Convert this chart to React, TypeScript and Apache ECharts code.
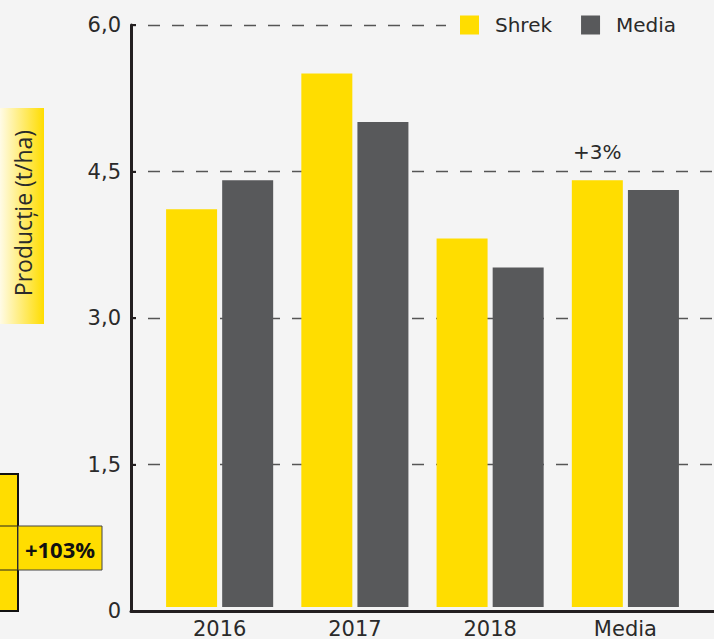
import React, { useEffect, useRef } from "react";
import * as echarts from "echarts";

const categories = ["2016", "2017", "2018", "Media"];
const shrekValues = [4.1, 5.5, 3.8, 4.4];
const mediaValues = [4.4, 5.0, 3.5, 4.3];
const seriesNames = ["Shrek", "Media"];
const yAxisTitle = "Producție (t/ha)";
const mediaDiffLabel = "+3%";
const sideBoxLabel = "+103%";

const YELLOW = "#ffdd00";
const GREY = "#58595b";
const TEXT = "#2a2a2a";
const AXIS = "#231f20";
const BG = "#f4f4f4";
const FONT = "'DejaVu Sans', sans-serif";
const TITLE_FONT = "'Open Sans', sans-serif";

export default function App() {
  const ref = useRef<HTMLDivElement>(null);

  useEffect(() => {
    if (!ref.current) return;
    const chart = echarts.init(ref.current, undefined, { renderer: "svg" });

    const shrekData = shrekValues.map((v, i) =>
      i === 3
        ? {
            value: v,
            label: {
              show: true,
              position: "top",
              distance: 18,
              formatter: mediaDiffLabel,
              fontSize: 20,
              color: TEXT,
              fontFamily: FONT,
            },
          }
        : v
    );

    chart.setOption({
      animation: false,
      backgroundColor: BG,
      textStyle: { fontFamily: FONT },
      grid: [
        { left: 131, right: 0, top: 25, bottom: 28 },
        { left: 152, right: 21, top: 25, bottom: 28 },
      ],
      legend: {
        data: seriesNames,
        orient: "horizontal",
        left: 446,
        top: 9,
        width: 268,
        padding: [6, 4, 6, 14],
        backgroundColor: BG,
        itemWidth: 19,
        itemHeight: 19,
        itemGap: 29,
        icon: "rect",
        textStyle: {
          fontSize: 20,
          color: TEXT,
          fontFamily: FONT,
          padding: [0, 0, 0, 11],
        },
      },
      xAxis: [
        {
          type: "value",
          gridIndex: 0,
          min: 0,
          max: 1,
          axisLine: { show: true, onZero: false, lineStyle: { color: AXIS, width: 3 } },
          axisTick: { show: false },
          axisLabel: { show: false },
          splitLine: { show: false },
        },
        {
          type: "category",
          gridIndex: 1,
          data: categories,
          axisLine: { show: false },
          axisTick: { show: false },
          axisLabel: { fontSize: 21, color: TEXT, margin: 11, fontFamily: FONT },
        },
      ],
      yAxis: [
        {
          type: "value",
          gridIndex: 0,
          min: 0,
          max: 6,
          interval: 1.5,
          axisLine: { show: true, lineStyle: { color: AXIS, width: 3 } },
          axisTick: { show: true, inside: true, length: 5, lineStyle: { color: AXIS, width: 2 } },
          axisLabel: {
            fontSize: 21,
            color: TEXT,
            margin: 10,
            fontFamily: FONT,
            formatter: (v: number) => (v === 0 ? "0" : v.toFixed(1).replace(".", ",")),
          },
          splitLine: {
            show: true,
            lineStyle: { color: "#555", width: 1.3, type: [12, 12], dashOffset: 7 },
          },
        },
        {
          type: "value",
          gridIndex: 1,
          min: 0,
          max: 6,
          show: false,
        },
      ],
      series: [
        {
          name: seriesNames[0],
          type: "bar",
          xAxisIndex: 1,
          yAxisIndex: 1,
          data: shrekData,
          barWidth: 51,
          barGap: "10%",
          itemStyle: { color: YELLOW },
        },
        {
          name: seriesNames[1],
          type: "bar",
          xAxisIndex: 1,
          yAxisIndex: 1,
          data: mediaValues,
          barWidth: 51,
          barGap: "10%",
          itemStyle: { color: GREY },
        },
      ],
      graphic: [
        {
          type: "rect",
          z: 100,
          shape: { x: 680, y: 12, width: 34, height: 26 },
          style: { fill: BG },
        },
        {
          type: "group",
          children: [
            {
              type: "rect",
              shape: { x: 0, y: 108, width: 44, height: 216 },
              style: {
                fill: new echarts.graphic.LinearGradient(0, 0, 1, 0, [
                  { offset: 0, color: "#fffbe6" },
                  { offset: 1, color: YELLOW },
                ]),
              },
            },
            {
              type: "text",
              x: 23,
              y: 213,
              rotation: Math.PI / 2,
              style: {
                text: yAxisTitle,
                fontSize: 23,
                fill: TEXT,
                fontFamily: TITLE_FONT,
                align: "center",
                verticalAlign: "middle",
              },
            },
            {
              type: "rect",
              shape: { x: -4, y: 474, width: 22, height: 137 },
              style: { fill: YELLOW, stroke: "#111", lineWidth: 2 },
            },
            {
              type: "line",
              shape: { x1: 0, y1: 526, x2: 18, y2: 526 },
              style: { stroke: "#222", lineWidth: 1 },
            },
            {
              type: "line",
              shape: { x1: 0, y1: 570, x2: 18, y2: 570 },
              style: { stroke: "#222", lineWidth: 1 },
            },
            {
              type: "rect",
              shape: { x: 18, y: 526, width: 84, height: 44 },
              style: { fill: YELLOW, stroke: "#444", lineWidth: 1 },
            },
            {
              type: "text",
              x: 60,
              y: 549,
              style: {
                text: sideBoxLabel,
                fontSize: 22,
                fontWeight: "bold",
                fill: "#111",
                fontFamily: TITLE_FONT,
                align: "center",
                verticalAlign: "middle",
              },
            },
          ],
        },
      ],
    });

    return () => chart.dispose();
  }, []);

  return (
    <div
      ref={ref}
      style={{
        position: "fixed",
        left: 0,
        top: 0,
        width: 714,
        height: 639,
        background: BG,
      }}
    />
  );
}
